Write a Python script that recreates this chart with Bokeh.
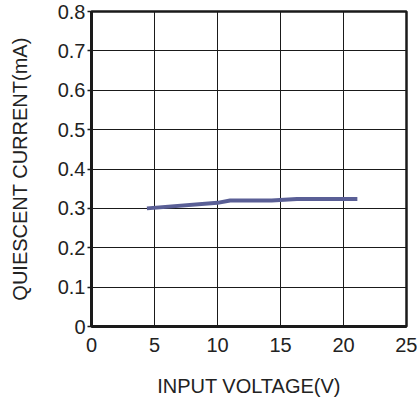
from bokeh.plotting import figure
from bokeh.models import Range1d, FixedTicker
from bokeh.embed import file_html
from bokeh.resources import INLINE

# data
input_voltage = [4.4, 10.0, 11.0, 14.3, 16.3, 21.1]
quiescent_current = [0.300, 0.314, 0.320, 0.320, 0.324, 0.324]
x_ticks = [0, 5, 10, 15, 20, 25]
y_ticks = [0, 0.1, 0.2, 0.3, 0.4, 0.5, 0.6, 0.7, 0.8]
x_title = "INPUT VOLTAGE(V)"
y_title = "QUIESCENT CURRENT(mA)"

p = figure(width=417, height=400, output_backend="svg", toolbar_location=None,
           x_range=Range1d(0, 25), y_range=Range1d(0, 0.8))
p.min_border_left = 91
p.min_border_right = 11
p.min_border_top = 11
p.min_border_bottom = 74
p.background_fill_color = "white"
p.border_fill_color = "white"
p.outline_line_color = "#1a1a1a"
p.outline_line_width = 2.5

p.line(input_voltage, quiescent_current, line_color="#5a5f96", line_width=4)

font = "Liberation Sans"
for ax in (p.xaxis, p.yaxis):
    ax.axis_line_color = "#1a1a1a"
    ax.axis_line_width = 3
    ax.major_label_text_font = font
    ax.major_label_text_font_size = "20px"
    ax.major_label_text_color = "#222222"
    ax.axis_label_text_font = font
    ax.axis_label_text_font_size = "20px"
    ax.axis_label_text_font_style = "normal"
    ax.axis_label_text_color = "#222222"
    ax.minor_tick_line_color = None

p.xaxis.ticker = FixedTicker(ticks=x_ticks)
p.yaxis.ticker = FixedTicker(ticks=y_ticks)
p.yaxis.major_label_overrides = {0: "0", 0.8: "0.8"}
p.xaxis.axis_label = x_title
p.yaxis.axis_label = y_title
p.xaxis.major_tick_line_color = None
p.xaxis.major_label_standoff = 5
p.xaxis.axis_label_standoff = 20
p.yaxis.major_tick_in = 0
p.yaxis.major_tick_out = 4
p.yaxis.major_tick_line_color = "#1a1a1a"
p.yaxis.major_tick_line_width = 1.5
p.yaxis.major_label_standoff = 2
p.yaxis.axis_label_standoff = 24

p.xgrid.ticker = FixedTicker(ticks=x_ticks)
p.ygrid.ticker = FixedTicker(ticks=y_ticks)
p.grid.grid_line_color = "#1a1a1a"
p.grid.grid_line_width = 1

open("out.html", "w").write(file_html(p, INLINE))
